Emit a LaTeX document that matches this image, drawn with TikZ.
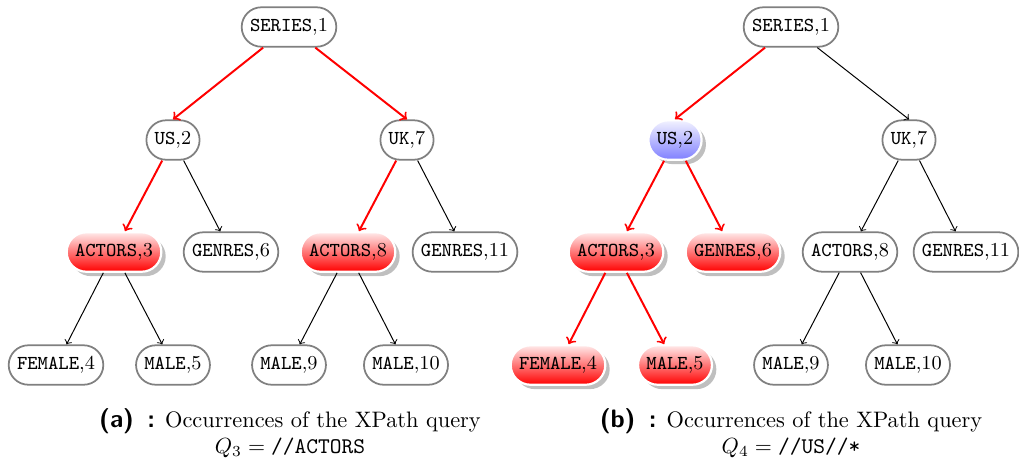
\documentclass[tikz,border=0pt]{standalone}
\usetikzlibrary{shadows}
\newcommand\tlabel[2]{\texttt{#1},#2}
\newcommand\sublabel[1]{{\fontsize{11.5}{12}\selectfont\sffamily\bfseries (#1)\, :}}
\tikzset{
  tnode/.style={rectangle, rounded corners=9pt, minimum height=18pt,
    inner xsep=3.8pt, inner ysep=0pt, font=\fontsize{9}{11}\selectfont},
  plain/.style={tnode, draw=black!50, line width=0.8pt, fill=white},
  hitred/.style={tnode, draw=white, line width=1pt, top color=red!8, bottom color=red,
    drop shadow={shadow xshift=2pt, shadow yshift=-2pt, fill=black!50, opacity=.5}},
  hitblue/.style={tnode, draw=white, line width=1pt, top color=blue!5, bottom color=blue!50,
    drop shadow={shadow xshift=2pt, shadow yshift=-2pt, fill=black!50, opacity=.5}},
  hot/.style={->, red, line width=0.9pt},
  cold/.style={->, black, line width=0.45pt},
  capnode/.style={anchor=base, inner sep=0pt, font=\fontsize{10.2}{12}\selectfont}
}
\begin{document}
\begin{tikzpicture}[x=0.456pt, y=-0.456pt]
\useasboundingbox (0,0) rectangle (1019,466);

% ---- tree (a): //ACTORS ----
\node[plain]  (a1)  at (289,27)  {\tlabel{SERIES}{1}};
\node[plain]  (a2)  at (173,140) {\tlabel{US}{2}};
\node[plain]  (a7)  at (407,140) {\tlabel{UK}{7}};
\node[hitred] (a3)  at (114,252) {\tlabel{ACTORS}{3}};
\node[plain]  (a6)  at (231,252) {\tlabel{GENRES}{6}};
\node[hitred] (a8)  at (348,252) {\tlabel{ACTORS}{8}};
\node[plain]  (a11) at (465,252) {\tlabel{GENRES}{11}};
\node[plain]  (a4)  at (56,365)  {\tlabel{FEMALE}{4}};
\node[plain]  (a5)  at (173,365) {\tlabel{MALE}{5}};
\node[plain]  (a9)  at (289,365) {\tlabel{MALE}{9}};
\node[plain]  (a10) at (406,365) {\tlabel{MALE}{10}};

\draw[hot]  (a1) -- (a2.north);
\draw[hot]  (a1) -- (a7.north);
\draw[hot]  (a2) -- (a3);
\draw[cold] (a2) -- (a6);
\draw[hot]  (a7) -- (a8);
\draw[cold] (a7) -- (a11);
\draw[cold] (a3) -- (a4);
\draw[cold] (a3) -- (a5);
\draw[cold] (a8) -- (a9);
\draw[cold] (a8) -- (a10);

\node[capnode] (capa1) at (290,427)
  {\sublabel{a} Occurrences of the XPath query};
\node[capnode] (capa2) at (290,453) {$Q_3 = {}$\texttt{//ACTORS}};

% ---- tree (b): //US//* ----
\node[plain]   (b1)  at (791,27)  {\tlabel{SERIES}{1}};
\node[hitblue] (b2)  at (675,140) {\tlabel{US}{2}};
\node[plain]   (b7)  at (909,140) {\tlabel{UK}{7}};
\node[hitred]  (b3)  at (616,252) {\tlabel{ACTORS}{3}};
\node[hitred]  (b6)  at (733,252) {\tlabel{GENRES}{6}};
\node[plain]   (b8)  at (850,252) {\tlabel{ACTORS}{8}};
\node[plain]   (b11) at (966,252) {\tlabel{GENRES}{11}};
\node[hitred]  (b4)  at (558,365) {\tlabel{FEMALE}{4}};
\node[hitred]  (b5)  at (675,365) {\tlabel{MALE}{5}};
\node[plain]   (b9)  at (791,365) {\tlabel{MALE}{9}};
\node[plain]   (b10) at (908,365) {\tlabel{MALE}{10}};

\draw[hot]  (b1) -- (b2.north);
\draw[cold] (b1) -- (b7.north);
\draw[hot]  (b2) -- (b3);
\draw[hot]  (b2) -- (b6);
\draw[cold] (b7) -- (b8);
\draw[cold] (b7) -- (b11);
\draw[hot]  (b3) -- (b4);
\draw[hot]  (b3) -- (b5);
\draw[cold] (b8) -- (b9);
\draw[cold] (b8) -- (b10);

\node[capnode] (capb1) at (791,427)
  {\sublabel{b} Occurrences of the XPath query};
\node[capnode] (capb2) at (791,453) {$Q_4 = {}$\texttt{//US//*}};
\end{tikzpicture}
\end{document}
